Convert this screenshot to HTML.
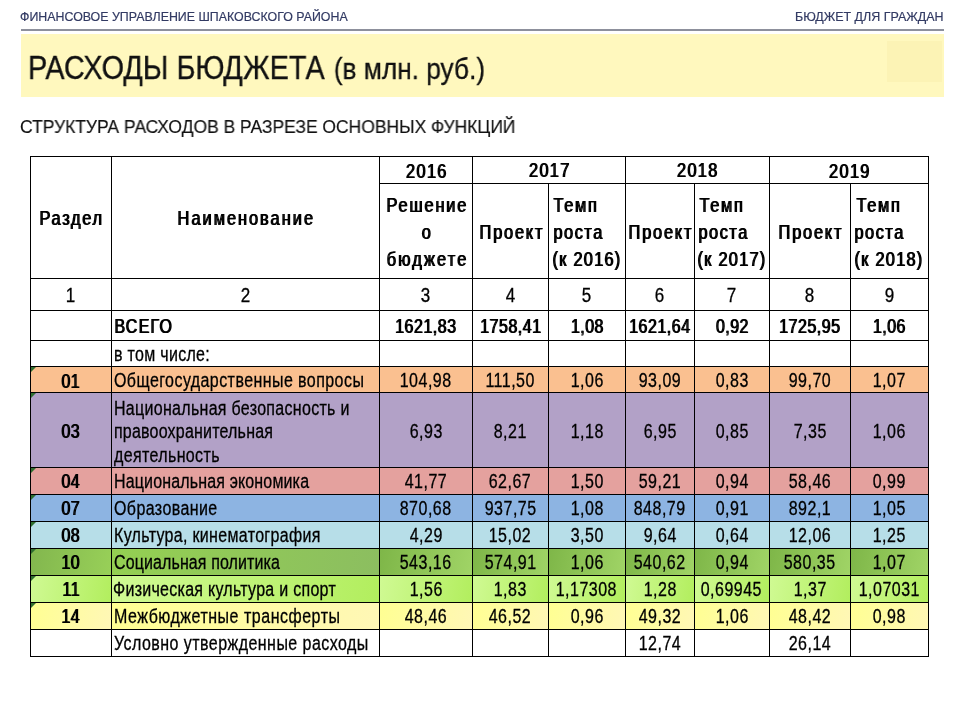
<!DOCTYPE html>
<html lang="ru"><head><meta charset="utf-8"><title>Расходы бюджета</title>
<style>
html,body{margin:0;padding:0}
body{width:960px;height:720px;position:relative;overflow:hidden;background:#fff;font-family:"Liberation Sans",sans-serif;color:#000}
.hdr{position:absolute;white-space:nowrap;transform-origin:0 50%}
.hl{left:20.1px;top:10px;font-size:12.3px;line-height:14px;color:#323a63;-webkit-text-stroke:0.2px #323a63;transform:scaleX(1.007)}
.hr{left:795px;top:10px;font-size:12.3px;line-height:14px;color:#323a63;-webkit-text-stroke:0.2px #323a63;transform:scaleX(1.0136)}
.rule{position:absolute;left:21px;top:29px;width:923px;height:2px;background:linear-gradient(#b4b6be 0,#b4b6be 25%,#8d909c 25%,#8d909c 100%)}
.band{position:absolute;left:21px;top:34px;width:923px;height:62.5px;background:#FFF8BE}
.sq{position:absolute;left:887px;top:41px;width:55px;height:41px;background:#FCF3B5}
.title{left:28.4px;top:48.8px;font-size:32.6px;line-height:38px;color:#111;-webkit-text-stroke:0.3px #111;transform:scaleX(0.8865)}
.title small{font-size:29.6px;margin-left:1.2px}
.sub{left:20.3px;top:116px;font-size:17.7px;line-height:22px;color:#111;-webkit-text-stroke:0.15px #111;transform:scaleX(0.9872)}
.c{position:absolute;box-sizing:border-box;display:flex;align-items:center}
.ac{justify-content:center;text-align:center}
.al{justify-content:flex-start;text-align:left}
.t{position:relative;flex:none;white-space:nowrap;font-size:19.5px;line-height:24px;-webkit-text-stroke:0.3px #000}
.t.b{text-shadow:1.22px 0 0 #000;-webkit-text-stroke:0.12px #000}
.t.h{font-size:20px}
.ln{display:block}
.ac .ln{transform-origin:50% 50%}
.al .ln{transform-origin:0 50%}
.tri{position:absolute;left:1px;top:1px;width:0;height:0;border-top:5px solid #2F6E2F;border-right:5px solid transparent}
.grid{position:absolute;left:0;top:0}
.g{position:absolute;background:#000;display:block}
.tbl,.hdr{will-change:transform}
.tbl{position:absolute;left:0;top:0;width:960px;height:720px}
</style></head>
<body>
<div class="hdr hl">ФИНАНСОВОЕ УПРАВЛЕНИЕ ШПАКОВСКОГО РАЙОНА</div>
<div class="hdr hr">БЮДЖЕТ ДЛЯ ГРАЖДАН</div>
<div class="rule"></div>
<div class="band"></div><div class="sq"></div>
<div class="hdr title">РАСХОДЫ БЮДЖЕТА <small>(в млн. руб.)</small></div>
<div class="hdr sub">СТРУКТУРА РАСХОДОВ В РАЗРЕЗЕ ОСНОВНЫХ ФУНКЦИЙ</div>
<div class="tbl">
<div class="c ac" style="left:30.0px;top:156.0px;width:81.0px;height:122.0px;"><div class="t b h" style="top:1px"><span class="ln" style="transform:scaleX(0.8200);letter-spacing:2.02px;margin-right:-2.02px">Раздел</span></div></div>
<div class="c ac" style="left:111.0px;top:156.0px;width:268.0px;height:122.0px;"><div class="t b h" style="top:1px"><span class="ln" style="transform:scaleX(0.8200);letter-spacing:2.41px;margin-right:-2.41px">Наименование</span></div></div>
<div class="c ac" style="left:379.0px;top:156.0px;width:93.0px;height:27.0px;"><div class="t b h" style="top:1.5px"><span class="ln" style="transform:scaleX(0.8200);letter-spacing:1.59px;margin-right:-1.59px">2016</span></div></div>
<div class="c ac" style="left:472.0px;top:156.0px;width:153.0px;height:27.0px;"><div class="t b h" style="top:0.5px"><span class="ln" style="transform:scaleX(0.8200);letter-spacing:1.51px;margin-right:-1.51px">2017</span></div></div>
<div class="c ac" style="left:625.0px;top:156.0px;width:144.0px;height:27.0px;"><div class="t b h" style="top:0.5px"><span class="ln" style="transform:scaleX(0.8200);letter-spacing:1.51px;margin-right:-1.51px">2018</span></div></div>
<div class="c ac" style="left:769.0px;top:156.0px;width:159.0px;height:27.0px;"><div class="t b h" style="top:1.5px"><span class="ln" style="transform:scaleX(0.8200);letter-spacing:1.59px;margin-right:-1.59px">2019</span></div></div>
<div class="c ac" style="left:379.0px;top:183.0px;width:93.0px;height:95.0px;"><div class="t b h" style="top:1.6px;line-height:26.85px"><span class="ln" style="transform:scaleX(0.8200);letter-spacing:2.24px;margin-right:-2.24px">Решение</span><span class="ln" style="transform:scaleX(0.8200)">о</span><span class="ln" style="transform:scaleX(0.8200);letter-spacing:2.60px;margin-right:-2.60px">бюджете</span></div></div>
<div class="c ac" style="left:472.0px;top:183.0px;width:76.0px;height:95.0px;"><div class="t b h" style="top:1px"><span class="ln" style="transform:scaleX(0.8200);letter-spacing:2.16px;margin-right:-2.16px">Проект</span></div></div>
<div class="c al" style="left:548.0px;top:183.0px;width:77.0px;height:95.0px;"><div class="t b h" style="top:1.6px;line-height:26.85px"><span class="ln" style="transform:scaleX(0.8200);letter-spacing:2.00px;margin-right:-2.00px;margin-left:5.40px">Темп</span><span class="ln" style="transform:scaleX(0.8200);letter-spacing:1.79px;margin-right:-1.79px;margin-left:4.50px">роста</span><span class="ln" style="transform:scaleX(0.8200);letter-spacing:1.51px;margin-right:-1.51px;margin-left:4.00px">(к 2016)</span></div></div>
<div class="c ac" style="left:625.0px;top:183.0px;width:69.0px;height:95.0px;"><div class="t b h" style="top:1px"><span class="ln" style="transform:scaleX(0.8200);letter-spacing:2.16px;margin-right:-2.16px">Проект</span></div></div>
<div class="c al" style="left:694.0px;top:183.0px;width:75.0px;height:95.0px;"><div class="t b h" style="top:1.6px;line-height:26.85px"><span class="ln" style="transform:scaleX(0.8200);letter-spacing:2.00px;margin-right:-2.00px;margin-left:4.90px">Темп</span><span class="ln" style="transform:scaleX(0.8200);letter-spacing:1.79px;margin-right:-1.79px;margin-left:3.50px">роста</span><span class="ln" style="transform:scaleX(0.8200);letter-spacing:1.51px;margin-right:-1.51px;margin-left:3.30px">(к 2017)</span></div></div>
<div class="c ac" style="left:769.0px;top:183.0px;width:81.0px;height:95.0px;"><div class="t b h" style="top:1px"><span class="ln" style="transform:scaleX(0.8200);letter-spacing:2.16px;margin-right:-2.16px">Проект</span></div></div>
<div class="c al" style="left:850.0px;top:183.0px;width:78.0px;height:95.0px;"><div class="t b h" style="top:1.6px;line-height:26.85px"><span class="ln" style="transform:scaleX(0.8200);letter-spacing:2.00px;margin-right:-2.00px;margin-left:5.50px">Темп</span><span class="ln" style="transform:scaleX(0.8200);letter-spacing:1.79px;margin-right:-1.79px;margin-left:4.20px">роста</span><span class="ln" style="transform:scaleX(0.8200);letter-spacing:1.51px;margin-right:-1.51px;margin-left:4.00px">(к 2018)</span></div></div>
<div class="c ac" style="left:30.0px;top:278.0px;width:81.0px;height:32.0px;"><div class="t" style="top:1px"><span class="ln" style="transform:scaleX(0.8720)">1</span></div></div>
<div class="c ac" style="left:111.0px;top:278.0px;width:268.0px;height:32.0px;"><div class="t" style="top:1px"><span class="ln" style="transform:scaleX(0.8720)">2</span></div></div>
<div class="c ac" style="left:379.0px;top:278.0px;width:93.0px;height:32.0px;"><div class="t" style="top:1px"><span class="ln" style="transform:scaleX(0.8720)">3</span></div></div>
<div class="c ac" style="left:472.0px;top:278.0px;width:76.0px;height:32.0px;"><div class="t" style="top:1px"><span class="ln" style="transform:scaleX(0.8720)">4</span></div></div>
<div class="c ac" style="left:548.0px;top:278.0px;width:77.0px;height:32.0px;"><div class="t" style="top:1px"><span class="ln" style="transform:scaleX(0.8720)">5</span></div></div>
<div class="c ac" style="left:625.0px;top:278.0px;width:69.0px;height:32.0px;"><div class="t" style="top:1px"><span class="ln" style="transform:scaleX(0.8720)">6</span></div></div>
<div class="c ac" style="left:694.0px;top:278.0px;width:75.0px;height:32.0px;"><div class="t" style="top:1px"><span class="ln" style="transform:scaleX(0.8720)">7</span></div></div>
<div class="c ac" style="left:769.0px;top:278.0px;width:81.0px;height:32.0px;"><div class="t" style="top:1px"><span class="ln" style="transform:scaleX(0.8720)">8</span></div></div>
<div class="c ac" style="left:850.0px;top:278.0px;width:78.0px;height:32.0px;"><div class="t" style="top:1px"><span class="ln" style="transform:scaleX(0.8720)">9</span></div></div>
<div class="c ac" style="left:30.0px;top:310.0px;width:81.0px;height:30.0px;"></div>
<div class="c al" style="left:111.0px;top:310.0px;width:268.0px;height:30.0px;"><div class="t b" style="top:0.6px"><span class="ln" style="transform:scaleX(0.8200);letter-spacing:1.51px;margin-right:-1.51px;margin-left:3.10px">ВСЕГО</span></div></div>
<div class="c ac" style="left:379.0px;top:310.0px;width:93.0px;height:30.0px;"><div class="t b" style="top:0.6px"><span class="ln" style="transform:scaleX(0.8200);letter-spacing:0.61px;margin-right:-0.61px">1621,83</span></div></div>
<div class="c ac" style="left:472.0px;top:310.0px;width:76.0px;height:30.0px;"><div class="t b" style="top:0.6px"><span class="ln" style="transform:scaleX(0.8200);letter-spacing:0.61px;margin-right:-0.61px">1758,41</span></div></div>
<div class="c ac" style="left:548.0px;top:310.0px;width:77.0px;height:30.0px;"><div class="t b" style="top:0.6px"><span class="ln" style="transform:scaleX(0.8200);letter-spacing:0.47px;margin-right:-0.47px">1,08</span></div></div>
<div class="c ac" style="left:625.0px;top:310.0px;width:69.0px;height:30.0px;"><div class="t b" style="top:0.6px"><span class="ln" style="transform:scaleX(0.8200);letter-spacing:0.61px;margin-right:-0.61px">1621,64</span></div></div>
<div class="c ac" style="left:694.0px;top:310.0px;width:75.0px;height:30.0px;"><div class="t b" style="top:0.6px"><span class="ln" style="transform:scaleX(0.8200);letter-spacing:0.47px;margin-right:-0.47px">0,92</span></div></div>
<div class="c ac" style="left:769.0px;top:310.0px;width:81.0px;height:30.0px;"><div class="t b" style="top:0.6px"><span class="ln" style="transform:scaleX(0.8200);letter-spacing:0.61px;margin-right:-0.61px">1725,95</span></div></div>
<div class="c ac" style="left:850.0px;top:310.0px;width:78.0px;height:30.0px;"><div class="t b" style="top:0.6px"><span class="ln" style="transform:scaleX(0.8200);letter-spacing:0.47px;margin-right:-0.47px">1,06</span></div></div>
<div class="c ac" style="left:30.0px;top:340.0px;width:81.0px;height:26.0px;"></div>
<div class="c al" style="left:111.0px;top:340.0px;width:268.0px;height:26.0px;"><div class="t" style="top:1px"><span class="ln" style="transform:scaleX(0.8200);letter-spacing:0.38px;margin-right:-0.38px;margin-left:2.70px">в том числе:</span></div></div>
<div class="c ac" style="left:379.0px;top:340.0px;width:93.0px;height:26.0px;"></div>
<div class="c ac" style="left:472.0px;top:340.0px;width:76.0px;height:26.0px;"></div>
<div class="c ac" style="left:548.0px;top:340.0px;width:77.0px;height:26.0px;"></div>
<div class="c ac" style="left:625.0px;top:340.0px;width:69.0px;height:26.0px;"></div>
<div class="c ac" style="left:694.0px;top:340.0px;width:75.0px;height:26.0px;"></div>
<div class="c ac" style="left:769.0px;top:340.0px;width:81.0px;height:26.0px;"></div>
<div class="c ac" style="left:850.0px;top:340.0px;width:78.0px;height:26.0px;"></div>
<div class="c ac" style="left:30.0px;top:366.0px;width:81.0px;height:26.0px;background:#FAC090;"><div class="t b" style="top:1.5px"><span class="ln" style="transform:scaleX(0.8200);letter-spacing:0.50px;margin-right:-0.50px">01</span></div><i class="tri"></i></div>
<div class="c al" style="left:111.0px;top:366.0px;width:268.0px;height:26.0px;background:#FAC090;"><div class="t" style="top:1px"><span class="ln" style="transform:scaleX(0.8200);letter-spacing:0.53px;margin-right:-0.53px;margin-left:2.80px">Общегосударственные вопросы</span></div></div>
<div class="c ac" style="left:379.0px;top:366.0px;width:93.0px;height:26.0px;background:#FAC090;"><div class="t" style="top:1px"><span class="ln" style="transform:scaleX(0.8200);letter-spacing:0.61px;margin-right:-0.61px">104,98</span></div></div>
<div class="c ac" style="left:472.0px;top:366.0px;width:76.0px;height:26.0px;background:#FAC090;"><div class="t" style="top:1px"><span class="ln" style="transform:scaleX(0.8200);letter-spacing:0.58px;margin-right:-0.58px">111,50</span></div></div>
<div class="c ac" style="left:548.0px;top:366.0px;width:77.0px;height:26.0px;background:#FAC090;"><div class="t" style="top:1px"><span class="ln" style="transform:scaleX(0.8200);letter-spacing:0.65px;margin-right:-0.65px">1,06</span></div></div>
<div class="c ac" style="left:625.0px;top:366.0px;width:69.0px;height:26.0px;background:#FAC090;"><div class="t" style="top:1px"><span class="ln" style="transform:scaleX(0.8200);letter-spacing:0.62px;margin-right:-0.62px">93,09</span></div></div>
<div class="c ac" style="left:694.0px;top:366.0px;width:75.0px;height:26.0px;background:#FAC090;"><div class="t" style="top:1px"><span class="ln" style="transform:scaleX(0.8200);letter-spacing:0.65px;margin-right:-0.65px">0,83</span></div></div>
<div class="c ac" style="left:769.0px;top:366.0px;width:81.0px;height:26.0px;background:#FAC090;"><div class="t" style="top:1px"><span class="ln" style="transform:scaleX(0.8200);letter-spacing:0.62px;margin-right:-0.62px">99,70</span></div></div>
<div class="c ac" style="left:850.0px;top:366.0px;width:78.0px;height:26.0px;background:#FAC090;"><div class="t" style="top:1px"><span class="ln" style="transform:scaleX(0.8200);letter-spacing:0.65px;margin-right:-0.65px">1,07</span></div></div>
<div class="c ac" style="left:30.0px;top:392.0px;width:81.0px;height:75.0px;background:#B2A1C7;"><div class="t b" style="top:1.5px"><span class="ln" style="transform:scaleX(0.8200);letter-spacing:0.50px;margin-right:-0.50px">03</span></div><i class="tri"></i></div>
<div class="c al" style="left:111.0px;top:392.0px;width:268.0px;height:75.0px;background:#B2A1C7;"><div class="t" style="top:2.6px;line-height:23.65px"><span class="ln" style="transform:scaleX(0.8200);letter-spacing:0.37px;margin-right:-0.37px;margin-left:2.80px">Национальная безопасность и</span><span class="ln" style="transform:scaleX(0.8200);letter-spacing:0.25px;margin-right:-0.25px;margin-left:2.80px">правоохранительная</span><span class="ln" style="transform:scaleX(0.8200);letter-spacing:0.45px;margin-right:-0.45px;margin-left:2.80px">деятельность</span></div></div>
<div class="c ac" style="left:379.0px;top:392.0px;width:93.0px;height:75.0px;background:#B2A1C7;"><div class="t" style="top:1px"><span class="ln" style="transform:scaleX(0.8200);letter-spacing:0.65px;margin-right:-0.65px">6,93</span></div></div>
<div class="c ac" style="left:472.0px;top:392.0px;width:76.0px;height:75.0px;background:#B2A1C7;"><div class="t" style="top:1px"><span class="ln" style="transform:scaleX(0.8200);letter-spacing:0.65px;margin-right:-0.65px">8,21</span></div></div>
<div class="c ac" style="left:548.0px;top:392.0px;width:77.0px;height:75.0px;background:#B2A1C7;"><div class="t" style="top:1px"><span class="ln" style="transform:scaleX(0.8200);letter-spacing:0.65px;margin-right:-0.65px">1,18</span></div></div>
<div class="c ac" style="left:625.0px;top:392.0px;width:69.0px;height:75.0px;background:#B2A1C7;"><div class="t" style="top:1px"><span class="ln" style="transform:scaleX(0.8200);letter-spacing:0.65px;margin-right:-0.65px">6,95</span></div></div>
<div class="c ac" style="left:694.0px;top:392.0px;width:75.0px;height:75.0px;background:#B2A1C7;"><div class="t" style="top:1px"><span class="ln" style="transform:scaleX(0.8200);letter-spacing:0.65px;margin-right:-0.65px">0,85</span></div></div>
<div class="c ac" style="left:769.0px;top:392.0px;width:81.0px;height:75.0px;background:#B2A1C7;"><div class="t" style="top:1px"><span class="ln" style="transform:scaleX(0.8200);letter-spacing:0.65px;margin-right:-0.65px">7,35</span></div></div>
<div class="c ac" style="left:850.0px;top:392.0px;width:78.0px;height:75.0px;background:#B2A1C7;"><div class="t" style="top:1px"><span class="ln" style="transform:scaleX(0.8200);letter-spacing:0.65px;margin-right:-0.65px">1,06</span></div></div>
<div class="c ac" style="left:30.0px;top:467.0px;width:81.0px;height:27.0px;background:#E4A19E;"><div class="t b" style="top:0.5px"><span class="ln" style="transform:scaleX(0.8200);letter-spacing:0.50px;margin-right:-0.50px">04</span></div><i class="tri"></i></div>
<div class="c al" style="left:111.0px;top:467.0px;width:268.0px;height:27.0px;background:#E4A19E;"><div class="t"><span class="ln" style="transform:scaleX(0.8200);letter-spacing:0.19px;margin-right:-0.19px;margin-left:2.80px">Национальная экономика</span></div></div>
<div class="c ac" style="left:379.0px;top:467.0px;width:93.0px;height:27.0px;background:#E4A19E;"><div class="t"><span class="ln" style="transform:scaleX(0.8200);letter-spacing:0.62px;margin-right:-0.62px">41,77</span></div></div>
<div class="c ac" style="left:472.0px;top:467.0px;width:76.0px;height:27.0px;background:#E4A19E;"><div class="t"><span class="ln" style="transform:scaleX(0.8200);letter-spacing:0.62px;margin-right:-0.62px">62,67</span></div></div>
<div class="c ac" style="left:548.0px;top:467.0px;width:77.0px;height:27.0px;background:#E4A19E;"><div class="t"><span class="ln" style="transform:scaleX(0.8200);letter-spacing:0.65px;margin-right:-0.65px">1,50</span></div></div>
<div class="c ac" style="left:625.0px;top:467.0px;width:69.0px;height:27.0px;background:#E4A19E;"><div class="t"><span class="ln" style="transform:scaleX(0.8200);letter-spacing:0.62px;margin-right:-0.62px">59,21</span></div></div>
<div class="c ac" style="left:694.0px;top:467.0px;width:75.0px;height:27.0px;background:#E4A19E;"><div class="t"><span class="ln" style="transform:scaleX(0.8200);letter-spacing:0.65px;margin-right:-0.65px">0,94</span></div></div>
<div class="c ac" style="left:769.0px;top:467.0px;width:81.0px;height:27.0px;background:#E4A19E;"><div class="t"><span class="ln" style="transform:scaleX(0.8200);letter-spacing:0.62px;margin-right:-0.62px">58,46</span></div></div>
<div class="c ac" style="left:850.0px;top:467.0px;width:78.0px;height:27.0px;background:#E4A19E;"><div class="t"><span class="ln" style="transform:scaleX(0.8200);letter-spacing:0.65px;margin-right:-0.65px">0,99</span></div></div>
<div class="c ac" style="left:30.0px;top:494.0px;width:81.0px;height:27.0px;background:#8DB4E2;"><div class="t b" style="top:0.5px"><span class="ln" style="transform:scaleX(0.8200);letter-spacing:0.50px;margin-right:-0.50px">07</span></div><i class="tri"></i></div>
<div class="c al" style="left:111.0px;top:494.0px;width:268.0px;height:27.0px;background:#8DB4E2;"><div class="t"><span class="ln" style="transform:scaleX(0.8200);letter-spacing:0.50px;margin-right:-0.50px;margin-left:2.80px">Образование</span></div></div>
<div class="c ac" style="left:379.0px;top:494.0px;width:93.0px;height:27.0px;background:#8DB4E2;"><div class="t"><span class="ln" style="transform:scaleX(0.8200);letter-spacing:0.61px;margin-right:-0.61px">870,68</span></div></div>
<div class="c ac" style="left:472.0px;top:494.0px;width:76.0px;height:27.0px;background:#8DB4E2;"><div class="t"><span class="ln" style="transform:scaleX(0.8200);letter-spacing:0.61px;margin-right:-0.61px">937,75</span></div></div>
<div class="c ac" style="left:548.0px;top:494.0px;width:77.0px;height:27.0px;background:#8DB4E2;"><div class="t"><span class="ln" style="transform:scaleX(0.8200);letter-spacing:0.65px;margin-right:-0.65px">1,08</span></div></div>
<div class="c ac" style="left:625.0px;top:494.0px;width:69.0px;height:27.0px;background:#8DB4E2;"><div class="t"><span class="ln" style="transform:scaleX(0.8200);letter-spacing:0.61px;margin-right:-0.61px">848,79</span></div></div>
<div class="c ac" style="left:694.0px;top:494.0px;width:75.0px;height:27.0px;background:#8DB4E2;"><div class="t"><span class="ln" style="transform:scaleX(0.8200);letter-spacing:0.65px;margin-right:-0.65px">0,91</span></div></div>
<div class="c ac" style="left:769.0px;top:494.0px;width:81.0px;height:27.0px;background:#8DB4E2;"><div class="t"><span class="ln" style="transform:scaleX(0.8200);letter-spacing:0.62px;margin-right:-0.62px">892,1</span></div></div>
<div class="c ac" style="left:850.0px;top:494.0px;width:78.0px;height:27.0px;background:#8DB4E2;"><div class="t"><span class="ln" style="transform:scaleX(0.8200);letter-spacing:0.65px;margin-right:-0.65px">1,05</span></div></div>
<div class="c ac" style="left:30.0px;top:521.0px;width:81.0px;height:27.0px;background:#B7DEE8;"><div class="t b" style="top:0.5px"><span class="ln" style="transform:scaleX(0.8200);letter-spacing:0.50px;margin-right:-0.50px">08</span></div><i class="tri"></i></div>
<div class="c al" style="left:111.0px;top:521.0px;width:268.0px;height:27.0px;background:#B7DEE8;"><div class="t"><span class="ln" style="transform:scaleX(0.8200);letter-spacing:0.39px;margin-right:-0.39px;margin-left:2.80px">Культура, кинематография</span></div></div>
<div class="c ac" style="left:379.0px;top:521.0px;width:93.0px;height:27.0px;background:#B7DEE8;"><div class="t"><span class="ln" style="transform:scaleX(0.8200);letter-spacing:0.65px;margin-right:-0.65px">4,29</span></div></div>
<div class="c ac" style="left:472.0px;top:521.0px;width:76.0px;height:27.0px;background:#B7DEE8;"><div class="t"><span class="ln" style="transform:scaleX(0.8200);letter-spacing:0.62px;margin-right:-0.62px">15,02</span></div></div>
<div class="c ac" style="left:548.0px;top:521.0px;width:77.0px;height:27.0px;background:#B7DEE8;"><div class="t"><span class="ln" style="transform:scaleX(0.8200);letter-spacing:0.65px;margin-right:-0.65px">3,50</span></div></div>
<div class="c ac" style="left:625.0px;top:521.0px;width:69.0px;height:27.0px;background:#B7DEE8;"><div class="t"><span class="ln" style="transform:scaleX(0.8200);letter-spacing:0.65px;margin-right:-0.65px">9,64</span></div></div>
<div class="c ac" style="left:694.0px;top:521.0px;width:75.0px;height:27.0px;background:#B7DEE8;"><div class="t"><span class="ln" style="transform:scaleX(0.8200);letter-spacing:0.65px;margin-right:-0.65px">0,64</span></div></div>
<div class="c ac" style="left:769.0px;top:521.0px;width:81.0px;height:27.0px;background:#B7DEE8;"><div class="t"><span class="ln" style="transform:scaleX(0.8200);letter-spacing:0.62px;margin-right:-0.62px">12,06</span></div></div>
<div class="c ac" style="left:850.0px;top:521.0px;width:78.0px;height:27.0px;background:#B7DEE8;"><div class="t"><span class="ln" style="transform:scaleX(0.8200);letter-spacing:0.65px;margin-right:-0.65px">1,25</span></div></div>
<div class="c ac" style="left:30.0px;top:548.0px;width:81.0px;height:27.0px;background:linear-gradient(100deg,#82B64E,#98D058);"><div class="t b" style="top:0.5px"><span class="ln" style="transform:scaleX(0.8200);letter-spacing:0.50px;margin-right:-0.50px">10</span></div><i class="tri"></i></div>
<div class="c al" style="left:111.0px;top:548.0px;width:268.0px;height:27.0px;background:linear-gradient(95deg,#94D052,#8CBE60);"><div class="t"><span class="ln" style="transform:scaleX(0.8200);letter-spacing:0.14px;margin-right:-0.14px;margin-left:2.80px">Социальная политика</span></div></div>
<div class="c ac" style="left:379.0px;top:548.0px;width:93.0px;height:27.0px;background:linear-gradient(100deg,#7EB648,#A0D466);"><div class="t"><span class="ln" style="transform:scaleX(0.8200);letter-spacing:0.61px;margin-right:-0.61px">543,16</span></div></div>
<div class="c ac" style="left:472.0px;top:548.0px;width:76.0px;height:27.0px;background:linear-gradient(100deg,#7EB648,#A0D466);"><div class="t"><span class="ln" style="transform:scaleX(0.8200);letter-spacing:0.61px;margin-right:-0.61px">574,91</span></div></div>
<div class="c ac" style="left:548.0px;top:548.0px;width:77.0px;height:27.0px;background:linear-gradient(100deg,#7EB648,#A0D466);"><div class="t"><span class="ln" style="transform:scaleX(0.8200);letter-spacing:0.65px;margin-right:-0.65px">1,06</span></div></div>
<div class="c ac" style="left:625.0px;top:548.0px;width:69.0px;height:27.0px;background:linear-gradient(100deg,#7EB648,#A0D466);"><div class="t"><span class="ln" style="transform:scaleX(0.8200);letter-spacing:0.61px;margin-right:-0.61px">540,62</span></div></div>
<div class="c ac" style="left:694.0px;top:548.0px;width:75.0px;height:27.0px;background:linear-gradient(100deg,#7EB648,#A0D466);"><div class="t"><span class="ln" style="transform:scaleX(0.8200);letter-spacing:0.65px;margin-right:-0.65px">0,94</span></div></div>
<div class="c ac" style="left:769.0px;top:548.0px;width:81.0px;height:27.0px;background:linear-gradient(100deg,#7EB648,#A0D466);"><div class="t"><span class="ln" style="transform:scaleX(0.8200);letter-spacing:0.61px;margin-right:-0.61px">580,35</span></div></div>
<div class="c ac" style="left:850.0px;top:548.0px;width:78.0px;height:27.0px;background:linear-gradient(100deg,#7EB648,#A0D466);"><div class="t"><span class="ln" style="transform:scaleX(0.8200);letter-spacing:0.65px;margin-right:-0.65px">1,07</span></div></div>
<div class="c ac" style="left:30.0px;top:575.0px;width:81.0px;height:27.0px;background:linear-gradient(100deg,#D0FA94,#B2EE5E);"><div class="t b" style="top:0.5px"><span class="ln" style="transform:scaleX(0.8200);letter-spacing:0.76px;margin-right:-0.76px">11</span></div><i class="tri"></i></div>
<div class="c al" style="left:111.0px;top:575.0px;width:268.0px;height:27.0px;background:linear-gradient(100deg,#D0FA94,#B2EE5E);"><div class="t"><span class="ln" style="transform:scaleX(0.8200);letter-spacing:0.34px;margin-right:-0.34px;margin-left:2.30px">Физическая культура и спорт</span></div></div>
<div class="c ac" style="left:379.0px;top:575.0px;width:93.0px;height:27.0px;background:linear-gradient(100deg,#D0FA94,#B2EE5E);"><div class="t"><span class="ln" style="transform:scaleX(0.8200);letter-spacing:0.65px;margin-right:-0.65px">1,56</span></div></div>
<div class="c ac" style="left:472.0px;top:575.0px;width:76.0px;height:27.0px;background:linear-gradient(100deg,#D0FA94,#B2EE5E);"><div class="t"><span class="ln" style="transform:scaleX(0.8200);letter-spacing:0.65px;margin-right:-0.65px">1,83</span></div></div>
<div class="c ac" style="left:548.0px;top:575.0px;width:77.0px;height:27.0px;background:linear-gradient(100deg,#D0FA94,#B2EE5E);"><div class="t"><span class="ln" style="transform:scaleX(0.8200);letter-spacing:0.60px;margin-right:-0.60px">1,17308</span></div></div>
<div class="c ac" style="left:625.0px;top:575.0px;width:69.0px;height:27.0px;background:linear-gradient(100deg,#D0FA94,#B2EE5E);"><div class="t"><span class="ln" style="transform:scaleX(0.8200);letter-spacing:0.65px;margin-right:-0.65px">1,28</span></div></div>
<div class="c ac" style="left:694.0px;top:575.0px;width:75.0px;height:27.0px;background:linear-gradient(100deg,#D0FA94,#B2EE5E);"><div class="t"><span class="ln" style="transform:scaleX(0.8200);letter-spacing:0.60px;margin-right:-0.60px">0,69945</span></div></div>
<div class="c ac" style="left:769.0px;top:575.0px;width:81.0px;height:27.0px;background:linear-gradient(100deg,#D0FA94,#B2EE5E);"><div class="t"><span class="ln" style="transform:scaleX(0.8200);letter-spacing:0.65px;margin-right:-0.65px">1,37</span></div></div>
<div class="c ac" style="left:850.0px;top:575.0px;width:78.0px;height:27.0px;background:linear-gradient(100deg,#D0FA94,#B2EE5E);"><div class="t"><span class="ln" style="transform:scaleX(0.8200);letter-spacing:0.60px;margin-right:-0.60px">1,07031</span></div></div>
<div class="c ac" style="left:30.0px;top:602.0px;width:81.0px;height:27.0px;background:linear-gradient(100deg,#FFFF92,#FFF7B6);"><div class="t b" style="top:0.5px"><span class="ln" style="transform:scaleX(0.8200);letter-spacing:0.50px;margin-right:-0.50px">14</span></div><i class="tri"></i></div>
<div class="c al" style="left:111.0px;top:602.0px;width:268.0px;height:27.0px;background:linear-gradient(100deg,#FFFF92,#FFF7B6);"><div class="t"><span class="ln" style="transform:scaleX(0.8200);letter-spacing:0.63px;margin-right:-0.63px;margin-left:2.80px">Межбюджетные трансферты</span></div></div>
<div class="c ac" style="left:379.0px;top:602.0px;width:93.0px;height:27.0px;background:linear-gradient(100deg,#FFFF92,#FFF7B6);"><div class="t"><span class="ln" style="transform:scaleX(0.8200);letter-spacing:0.62px;margin-right:-0.62px">48,46</span></div></div>
<div class="c ac" style="left:472.0px;top:602.0px;width:76.0px;height:27.0px;background:linear-gradient(100deg,#FFFF92,#FFF7B6);"><div class="t"><span class="ln" style="transform:scaleX(0.8200);letter-spacing:0.62px;margin-right:-0.62px">46,52</span></div></div>
<div class="c ac" style="left:548.0px;top:602.0px;width:77.0px;height:27.0px;background:linear-gradient(100deg,#FFFF92,#FFF7B6);"><div class="t"><span class="ln" style="transform:scaleX(0.8200);letter-spacing:0.65px;margin-right:-0.65px">0,96</span></div></div>
<div class="c ac" style="left:625.0px;top:602.0px;width:69.0px;height:27.0px;background:linear-gradient(100deg,#FFFF92,#FFF7B6);"><div class="t"><span class="ln" style="transform:scaleX(0.8200);letter-spacing:0.62px;margin-right:-0.62px">49,32</span></div></div>
<div class="c ac" style="left:694.0px;top:602.0px;width:75.0px;height:27.0px;background:linear-gradient(100deg,#FFFF92,#FFF7B6);"><div class="t"><span class="ln" style="transform:scaleX(0.8200);letter-spacing:0.65px;margin-right:-0.65px">1,06</span></div></div>
<div class="c ac" style="left:769.0px;top:602.0px;width:81.0px;height:27.0px;background:linear-gradient(100deg,#FFFF92,#FFF7B6);"><div class="t"><span class="ln" style="transform:scaleX(0.8200);letter-spacing:0.62px;margin-right:-0.62px">48,42</span></div></div>
<div class="c ac" style="left:850.0px;top:602.0px;width:78.0px;height:27.0px;background:linear-gradient(100deg,#FFFF92,#FFF7B6);"><div class="t"><span class="ln" style="transform:scaleX(0.8200);letter-spacing:0.65px;margin-right:-0.65px">0,98</span></div></div>
<div class="c ac" style="left:30.0px;top:629.0px;width:81.0px;height:27.0px;"></div>
<div class="c al" style="left:111.0px;top:629.0px;width:268.0px;height:27.0px;"><div class="t"><span class="ln" style="transform:scaleX(0.8200);letter-spacing:0.56px;margin-right:-0.56px;margin-left:2.80px">Условно утвержденные расходы</span></div></div>
<div class="c ac" style="left:379.0px;top:629.0px;width:93.0px;height:27.0px;"></div>
<div class="c ac" style="left:472.0px;top:629.0px;width:76.0px;height:27.0px;"></div>
<div class="c ac" style="left:548.0px;top:629.0px;width:77.0px;height:27.0px;"></div>
<div class="c ac" style="left:625.0px;top:629.0px;width:69.0px;height:27.0px;"><div class="t"><span class="ln" style="transform:scaleX(0.8200);letter-spacing:0.62px;margin-right:-0.62px">12,74</span></div></div>
<div class="c ac" style="left:694.0px;top:629.0px;width:75.0px;height:27.0px;"></div>
<div class="c ac" style="left:769.0px;top:629.0px;width:81.0px;height:27.0px;"><div class="t"><span class="ln" style="transform:scaleX(0.8200);letter-spacing:0.62px;margin-right:-0.62px">26,14</span></div></div>
<div class="c ac" style="left:850.0px;top:629.0px;width:78.0px;height:27.0px;"></div>
</div>
<div class="grid"><i class="g" style="left:30px;top:156px;width:899px;height:1px"></i><i class="g" style="left:379px;top:183px;width:550px;height:1px"></i><i class="g" style="left:30px;top:278px;width:899px;height:1px"></i><i class="g" style="left:30px;top:310px;width:899px;height:1px"></i><i class="g" style="left:30px;top:340px;width:899px;height:1px"></i><i class="g" style="left:30px;top:366px;width:899px;height:1px"></i><i class="g" style="left:30px;top:392px;width:899px;height:1px"></i><i class="g" style="left:30px;top:467px;width:899px;height:1px"></i><i class="g" style="left:30px;top:494px;width:899px;height:1px"></i><i class="g" style="left:30px;top:521px;width:899px;height:1px"></i><i class="g" style="left:30px;top:548px;width:899px;height:1px"></i><i class="g" style="left:30px;top:575px;width:899px;height:1px"></i><i class="g" style="left:30px;top:602px;width:899px;height:1px"></i><i class="g" style="left:30px;top:629px;width:899px;height:1px"></i><i class="g" style="left:30px;top:656px;width:899px;height:1px"></i><i class="g" style="left:30px;top:156px;width:1px;height:501px"></i><i class="g" style="left:111px;top:156px;width:1px;height:501px"></i><i class="g" style="left:379px;top:156px;width:1px;height:501px"></i><i class="g" style="left:472px;top:156px;width:1px;height:501px"></i><i class="g" style="left:548px;top:183px;width:1px;height:474px"></i><i class="g" style="left:625px;top:156px;width:1px;height:501px"></i><i class="g" style="left:694px;top:183px;width:1px;height:474px"></i><i class="g" style="left:769px;top:156px;width:1px;height:501px"></i><i class="g" style="left:850px;top:183px;width:1px;height:474px"></i><i class="g" style="left:928px;top:156px;width:1px;height:501px"></i></div>
</body></html>
